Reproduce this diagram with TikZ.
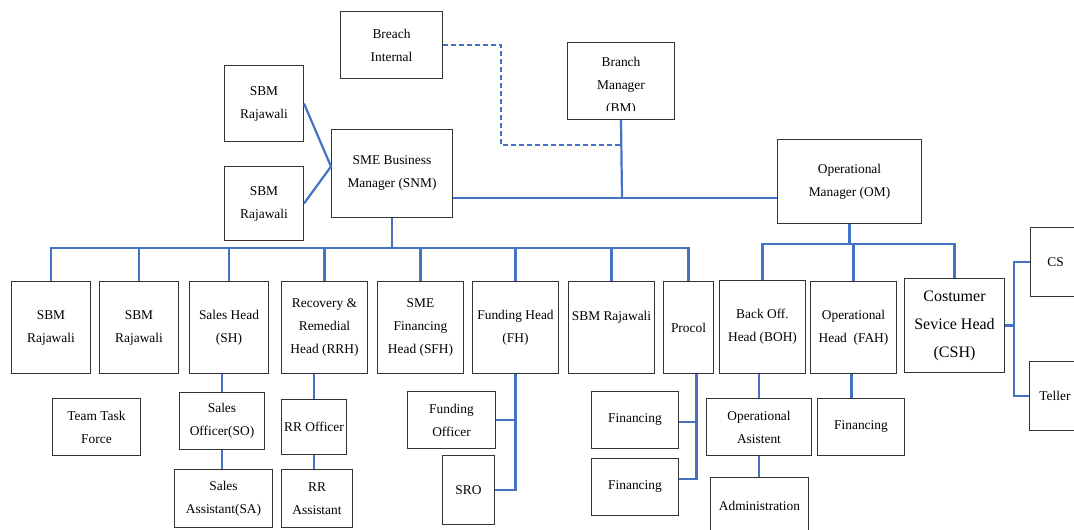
\documentclass[tikz,border=0pt]{standalone}
\usepackage{fontspec}
\setmainfont{Liberation Serif}
\definecolor{linkblue}{RGB}{68,114,196}
\begin{document}
\begin{tikzpicture}[x=1pt,y=-1pt,
  unit/.style={draw=black!80, line width=1pt, align=center, inner sep=1pt, anchor=north west, font=\fontsize{13.4}{23}\selectfont},
  txt/.style={align=center, inner sep=0pt, font=\fontsize{13.4}{23}\selectfont},
  link/.style={draw=linkblue, line width=2.2pt}]
\useasboundingbox (0,0) rectangle (1074,530);

% Top level
\node[unit, minimum width=102, minimum height=67] (bi) at (340,11) {Breach\\Internal};
\node[unit, minimum width=107, minimum height=77] (bm) at (567,42) {};
\begin{scope}
  \clip (bm.north west) rectangle ([yshift=10pt]bm.south east);
  \node[txt] at ([yshift=-5pt]bm.center) {Branch\\Manager\\(BM)};
\end{scope}
\node[unit, minimum width=79, minimum height=76] (sbmA) at (224,65) {SBM\\Rajawali};
\node[unit, minimum width=79, minimum height=74] (sbmB) at (224,166) {SBM\\Rajawali};
\node[unit, minimum width=121, minimum height=88] (snm) at (331,129) {SME Business\\Manager (SNM)};
\node[unit, minimum width=144, minimum height=84] (om) at (777,139) {Operational\\Manager (OM)};

% Business row
\node[unit, minimum width=79, minimum height=92] (sbm1) at (11,281) {SBM\\Rajawali};
\node[unit, minimum width=79, minimum height=92] (sbm2) at (99,281) {SBM\\Rajawali};
\node[unit, minimum width=79, minimum height=92] (sh) at (189,281) {Sales Head\\(SH)};
\node[unit, minimum width=86, minimum height=92] (rrh) at (281,281) {Recovery \&\\Remedial\\Head (RRH)};
\node[unit, minimum width=86, minimum height=92] (sfh) at (377,281) {SME\\Financing\\Head (SFH)};
\node[unit, minimum width=86, minimum height=92] (fh) at (472,281) {Funding Head\\(FH)};
\node[unit, minimum width=86, minimum height=92] (sbm7) at (568,281) {SBM Rajawali\\\mbox{}};
\node[unit, minimum width=50, minimum height=92] (procol) at (663,281) {Procol};

% Operational row
\node[unit, minimum width=86, minimum height=93] (boh) at (719,280) {Back Off.\\Head (BOH)};
\node[unit, minimum width=86, minimum height=92] (fah) at (810,281) {Operational\\Head\ \ (FAH)};
\node[unit, minimum width=100, minimum height=94, font=\fontsize{16}{28}\selectfont] (csh) at (904,278) {Costumer\\Sevice Head\\(CSH)};
\node[unit, minimum width=50, minimum height=69] (cs) at (1030,227) {CS};
\node[unit, minimum width=51, minimum height=69] (teller) at (1029,361) {Teller};

% Lower levels
\node[unit, minimum width=88, minimum height=57] (ttf) at (52,398) {Team Task\\Force};
\node[unit, minimum width=85, minimum height=57] (so) at (179,392) {Sales\\Officer(SO)};
\node[unit, minimum width=98, minimum height=58] (sa) at (174,469) {Sales\\Assistant(SA)};
\node[unit, minimum width=65, minimum height=55] (rro) at (281,399) {RR Officer};
\node[unit, minimum width=71, minimum height=58] (rra) at (281,469) {RR\\Assistant};
\node[unit, minimum width=88, minimum height=57] (fo) at (407,391) {Funding\\Officer};
\node[unit, minimum width=52, minimum height=69] (sro) at (442,455) {SRO};
\node[unit, minimum width=87, minimum height=57] (finA) at (591,391) {Financing};
\node[unit, minimum width=87, minimum height=57] (finB) at (591,458) {Financing};
\node[unit, minimum width=105, minimum height=57] (oa) at (706,398) {Operational\\Asistent};
\node[unit, minimum width=87, minimum height=57] (finC) at (817,398) {Financing};
\node[unit, minimum width=98, minimum height=56] (adm) at (710,477) {Administration};

% Connectors at the top
\coordinate (mid) at (622,198);
\coordinate (bend) at (501,145);
\coordinate (busA) at (0,248);
\coordinate (busB) at (0,244);
\coordinate (trunk) at (1014,0);
\coordinate (ptrunk) at ([xshift=8pt]procol.south);
\draw[link, dash pattern=on 5pt off 3pt] (bi.east) -| (bend) -- (bend -| bm.south);
\draw[link] (bm.south) -- (mid);
\draw[link] (snm.east |- mid) -- (om.west |- mid);
\draw[link] (sbmA.east) -- ([yshift=7pt]snm.west) -- (sbmB.east);

% Business bus
\draw[link] (snm.south) -- (snm.south |- busA);
\draw[link] (sbm1.north) -- (sbm1.north |- busA) -- (procol.north |- busA) -- (procol.north);
\foreach \n in {sbm2,sh,rrh,sfh,fh,sbm7}
  \draw[link] (\n.north) -- (\n.north |- busA);

% Operational bus
\draw[link] (om.south) -- (om.south |- busB);
\draw[link] (boh.north) -- (boh.north |- busB) -- (csh.north |- busB) -- (csh.north);
\draw[link] (fah.north) -- (fah.north |- busB);
\draw[link] (csh.east) -- (csh.east -| trunk);
\draw[link] (cs.west) -| (trunk |- teller.west) -- (teller.west);

% Lower connectors
\draw[link] (so.north |- sh.south) -- (so.north);
\draw[link] (so.south) -- (so.south |- sa.north);
\draw[link] (rro.north |- rrh.south) -- (rro.north);
\draw[link] (rro.south) -- (rro.south |- rra.north);
\draw[link] (fh.south) |- (sro.east);
\draw[link] (fo.east) -- (fo.east -| fh.south);
\draw[link] (ptrunk) |- ([yshift=8pt]finB.east);
\draw[link] ([yshift=-2pt]finA.east) -- ([yshift=-2pt]finA.east -| ptrunk);
\draw[link] (oa.north |- boh.south) -- (oa.north);
\draw[link] (oa.south) -- (oa.south |- adm.north);
\draw[link] ([xshift=-2pt]fah.south) -- ([xshift=-2pt]fah.south |- finC.north);
\end{tikzpicture}
\end{document}
